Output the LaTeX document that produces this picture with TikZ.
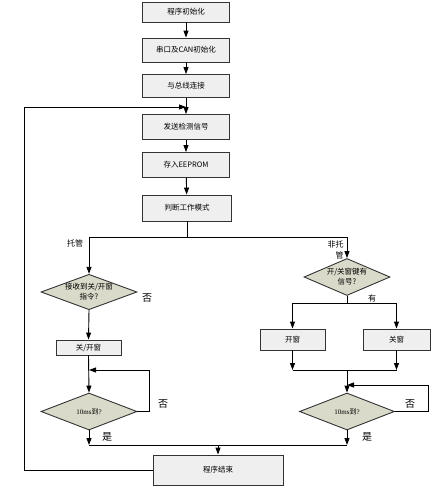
\documentclass[tikz,border=0pt]{standalone}
\usepackage{fontspec}
\setmainfont{Liberation Serif}
\newfontfamily\cjk{Noto Sans CJK SC}
\usetikzlibrary{shapes.geometric,arrows.meta}
\definecolor{boxfill}{HTML}{EFEFEF}
\definecolor{diafill}{HTML}{DADACA}
\tikzset{
  procbox/.style={draw=black!80,line width=0.9pt,fill=boxfill,rectangle,inner sep=0pt,font=\cjk\fontsize{7.5}{9}\selectfont},
  decbox/.style={draw=black!80,line width=0.9pt,fill=diafill,diamond,aspect=2.6,inner sep=0pt,align=center,font=\cjk\fontsize{7.5}{10}\selectfont},
  conn/.style={line width=0.9pt,black},
  arr/.style={conn,-{Triangle[length=7pt,width=5pt]}},
  lbl/.style={font=\cjk\fontsize{8}{9}\selectfont,inner sep=0pt},
  biglbl/.style={font=\cjk\fontsize{10}{11}\selectfont,inner sep=0pt}
}
\begin{document}
\begin{tikzpicture}[x=1pt,y=-1pt]
\useasboundingbox (0,0) rectangle (441,491);
% main column
\node[procbox,minimum width=87pt,minimum height=20pt] (b1) at (186,12) {程序初始化};
\node[procbox,minimum width=87pt,minimum height=24pt] (b2) at (186,50) {串口及CAN初始化};
\node[procbox,minimum width=87pt,minimum height=23pt] (b3) at (186,86) {与总线连接};
\node[procbox,minimum width=87pt,minimum height=25pt] (b4) at (186,127) {发送检测信号};
\node[procbox,minimum width=87pt,minimum height=25pt] (b5) at (186,165) {存入EEPROM};
\node[procbox,minimum width=89pt,minimum height=26pt] (b6) at (187,208) {判断工作模式};
\coordinate (fb) at (186,107);
\draw[arr] (b1) -- (b2);
\draw[arr] (b2) -- (b3);
\draw[arr] (b3) -- (b4);
\draw[arr] (b4) -- (b5);
\draw[arr] (b5) -- (b6);
% split
\coordinate (sp) at (187,237);
\coordinate (spL) at (89,237);
\coordinate (spR) at (347,237);
\draw[conn] (b6.south) -- (sp);
\draw[conn] (spL) -- (spR);
% left branch
\node[decbox,minimum width=96pt,minimum height=35pt] (dL) at (89,292) {接收到关/开窗\\指令?};
\node[procbox,minimum width=65pt,minimum height=15pt] (bL) at (88.5,347.5) {关/开窗};
\node[decbox,minimum width=96pt,minimum height=37pt,font=\fontsize{7}{8}\selectfont] (dL2) at (89,411.5) {10ms{\cjk 到}?};
\draw[arr] (spL) -- (dL.north);
\draw[arr] (dL.south) -- (bL.north);
\coordinate (lpL) at (89,370);
\draw[arr] (bL.south) -- (dL2.north);
\draw[arr] (dL2.east) -- (149,411.5) -- (149,370) -- (lpL);
\node[lbl] at (75,243) {托管};
\node[biglbl] at (147,298) {否};
\node[biglbl] at (163,404) {否};
\node[biglbl] at (107,437) {是};
% right branch
\node[decbox,minimum width=86pt,minimum height=37pt] (dR) at (347,277) {开/关窗键有\\信号?};
\node[procbox,minimum width=65pt,minimum height=21pt] (bo) at (292.5,339.5) {开窗};
\node[procbox,minimum width=67pt,minimum height=21pt] (bc) at (396.5,339.5) {关窗};
\node[decbox,minimum width=95pt,minimum height=37pt,font=\fontsize{7}{8}\selectfont] (dR2) at (347,411.5) {10ms{\cjk 到}?};
\draw[arr] (spR) -- (dR.north);
\coordinate (sR) at (347,303);
\coordinate (sRo) at (292.5,303);
\coordinate (sRc) at (396.5,303);
\draw[conn] (dR.south) -- (sR);
\draw[conn] (sRo) -- (sRc);
\draw[arr] (sRo) -- (bo.north);
\draw[arr] (sRc) -- (bc.north);
\coordinate (mo) at (292.5,370);
\coordinate (mc) at (396.5,370);
\coordinate (mR) at (347,370);
\draw[arr] (bo.south) -- (mo);
\draw[arr] (bc.south) -- (mc);
\draw[conn] (mo) -- (mc);
\draw[arr] (mR) -- (dR2.north);
\coordinate (lpR) at (347,385);
\draw[arr] (dR2.east) -- (428,411.5) -- (428,385) -- (lpR);
\node[lbl,align=right,font=\cjk\fontsize{8}{11}\selectfont] at (335.5,250) {非托\\管};
\node[lbl] at (372,298) {有};
\node[biglbl] at (410,404) {否};
\node[biglbl] at (367,437) {是};
% end
\node[procbox,minimum width=130pt,minimum height=30pt] (end) at (218,470) {程序结束};
\coordinate (jL) at (89,445);
\coordinate (jR) at (347,445);
\coordinate (jM) at (218,445);
\draw[arr] (dL2.south) -- (jL);
\draw[arr] (dR2.south) -- (jR);
\draw[conn] (jL) -- (jR);
\draw[arr] (jM) -- (end.north);
% feedback
\draw[arr] (end.west) -- (24,470) -- (24,107) -- (fb);
\end{tikzpicture}
\end{document}
